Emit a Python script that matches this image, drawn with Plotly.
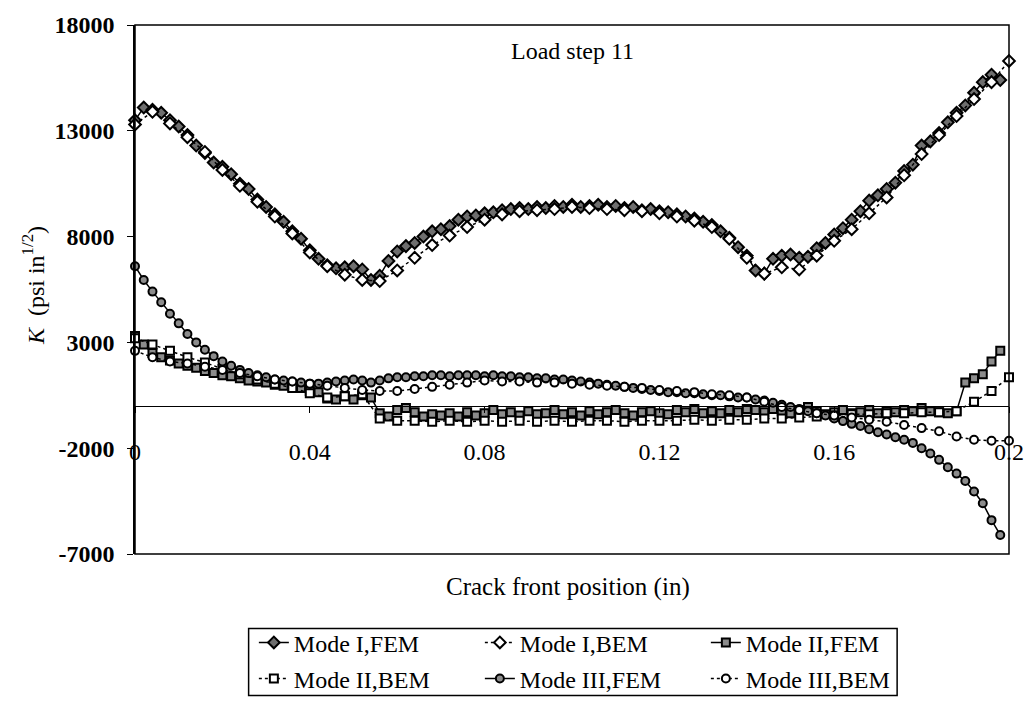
import plotly.graph_objects as go

# ---------------- data ----------------
x_fem = [0.000, 0.002, 0.004, 0.006, 0.008, 0.010, 0.012, 0.014, 0.016, 0.018,
         0.020, 0.022, 0.024, 0.026, 0.028, 0.030, 0.032, 0.034, 0.036, 0.038,
         0.040, 0.042, 0.044, 0.046, 0.048, 0.050, 0.052, 0.054, 0.056, 0.058,
         0.060, 0.062, 0.064, 0.066, 0.068, 0.070, 0.072, 0.074, 0.076, 0.078,
         0.080, 0.082, 0.084, 0.086, 0.088, 0.090, 0.092, 0.094, 0.096, 0.098,
         0.100, 0.102, 0.104, 0.106, 0.108, 0.110, 0.112, 0.114, 0.116, 0.118,
         0.120, 0.122, 0.124, 0.126, 0.128, 0.130, 0.132, 0.134, 0.136, 0.138,
         0.140, 0.142, 0.144, 0.146, 0.148, 0.150, 0.152, 0.154, 0.156, 0.158,
         0.160, 0.162, 0.164, 0.166, 0.168, 0.170, 0.172, 0.174, 0.176, 0.178,
         0.180, 0.182, 0.184, 0.186, 0.188, 0.190, 0.192, 0.194, 0.196, 0.198]

x_bem = [0.000, 0.004, 0.008, 0.012, 0.016, 0.020, 0.024, 0.028, 0.032, 0.036,
         0.040, 0.044, 0.048, 0.052, 0.056, 0.060, 0.064, 0.068, 0.072, 0.076,
         0.080, 0.084, 0.088, 0.092, 0.096, 0.100, 0.104, 0.108, 0.112, 0.116,
         0.120, 0.124, 0.128, 0.132, 0.136, 0.140, 0.144, 0.148, 0.152, 0.156,
         0.160, 0.164, 0.168, 0.172, 0.176, 0.180, 0.184, 0.188, 0.192, 0.196,
         0.200]

mode1_fem = [13500, 14100, 14000, 13850, 13500, 13200, 12800, 12300, 11950, 11500,
             11300, 10950, 10500, 10250, 9750, 9400, 9050, 8700, 8250, 7900,
             7350, 6950, 6650, 6500, 6550, 6600, 6450, 5950, 6150, 6850,
             7300, 7550, 7700, 8000, 8250, 8350, 8500, 8800, 8950, 9000,
             9100, 9150, 9250, 9300, 9350, 9300, 9400, 9350, 9450, 9400,
             9500, 9400, 9450, 9500, 9400, 9450, 9350, 9400, 9250, 9300,
             9200, 9150, 9050, 8950, 8850, 8700, 8550, 8250, 7950, 7500,
             7100, 6400, 6250, 6950, 7100, 7150, 7000, 7050, 7450, 7700,
             8100, 8400, 8800, 9200, 9700, 9950, 10250, 10550, 11100, 11400,
             12300, 12500, 12900, 13400, 13850, 14200, 14800, 15300, 15650, 15400]

mode1_bem = [13300, 13900, 13350, 12700, 12000, 11150, 10400, 9650, 8950, 8150,
             7250, 6600, 6200, 5950, 5900, 6400, 7000, 7600, 8050, 8450,
             8800, 9050, 9200, 9250, 9300, 9400, 9350, 9300, 9250, 9200,
             9100, 8950, 8750, 8450, 7900, 7000, 6250, 6550, 6450, 7100,
             7800, 8350, 9100, 9850, 10900, 11900, 12800, 13700, 14500, 15300,
             16300]

mode2_fem = [3300, 2900, 2500, 2300, 2150, 2000, 1900, 1800, 1650, 1550,
             1450, 1400, 1300, 1200, 1150, 1100, 1000, 950, 900, 850,
             700, 650, 350, 300, 450, 300, 500, 400, -350, -500,
             -200, -100, -300, -500, -400, -450, -350, -500, -300, -450,
             -350, -200, -400, -300, -450, -250, -400, -350, -200, -400,
             -300, -450, -250, -400, -300, -200, -350, -450, -300, -250,
             -350, -400, -200, -300, -150, -350, -250, -350, -200, -300,
             -150, -200, -300, -150, -250, -350, -200, -50, -250, -400,
             -300, -200, -350, -300, -200, -350, -250, -300, -200, -250,
             -100, -250, -300, -350, -250, 1100, 1300, 1500, 2100, 2600]

mode2_bem = [3200, 2900, 2600, 2300, 2050, 1750, 1500, 1250, 1050, 850,
             600, 400, 450, 550, -600, -700, -700, -750, -700, -750,
             -700, -750, -700, -750, -700, -750, -700, -700, -750, -700,
             -700, -700, -650, -700, -650, -650, -600, -600, -550, -500,
             -450, -400, -400, -350, -350, -300, -300, -250, 200, 700,
             1350]

mode3_fem = [6600, 5950, 5400, 4900, 4350, 3900, 3400, 3000, 2650, 2350,
             2100, 1900, 1700, 1550, 1450, 1350, 1250, 1200, 1150, 1100,
             1050, 1050, 1100, 1150, 1200, 1250, 1200, 1100, 1200, 1300,
             1350, 1350, 1400, 1400, 1450, 1450, 1400, 1450, 1450, 1450,
             1400, 1450, 1400, 1400, 1350, 1350, 1300, 1300, 1250, 1250,
             1200, 1150, 1100, 1050, 1000, 950, 900, 850, 800, 750,
             700, 650, 650, 600, 600, 550, 500, 500, 450, 400,
             400, 300, 250, 150, 50, -50, -150, -250, -350, -450,
             -600, -720, -850, -950, -1100, -1250, -1350, -1480, -1600, -1750,
             -2000, -2250, -2550, -2900, -3200, -3550, -4050, -4600, -5400, -6100]

mode3_bem = [2600, 2300, 2100, 2000, 1850, 1700, 1550, 1400, 1250, 1150,
             1050, 950, 850, 750, 700, 700, 800, 900, 1000, 1100,
             1200, 1150, 1150, 1100, 1100, 1050, 1000, 950, 900, 850,
             750, 700, 650, 550, 500, 400, 200, -50, -200, -350,
             -450, -550, -650, -750, -900, -1050, -1200, -1450, -1600, -1650,
             -1650]

x_ticks = [0, 0.04, 0.08, 0.12, 0.16, 0.2]
x_tick_text = ["0", "0.04", "0.08", "0.12", "0.16", "0.2"]
y_ticks = [-7000, -2000, 3000, 8000, 13000, 18000]
y_tick_text = ["-7000", "-2000", "3000", "8000", "13000", "18000"]

# ---------------- figure ----------------
FONT = "Liberation Serif"
fig = go.Figure()

def add(name, xs, ys, symbol, fill, dash, legend, size):
    fig.add_trace(go.Scatter(
        x=xs, y=ys, name=name, mode="lines+markers", legend=legend,
        line=dict(color="black", width=1.5, dash=dash),
        marker=dict(symbol=symbol, size=size, color=fill,
                    line=dict(color="black", width=2)),
        cliponaxis=False,
    ))

add("Mode I,FEM", x_fem, mode1_fem, "diamond", "#6e6e6e", "solid", "legend", 9)
add("Mode I,BEM", x_bem, mode1_bem, "diamond", "white", "dot", "legend", 9)
add("Mode II,FEM", x_fem, mode2_fem, "square", "#8c8c8c", "solid", "legend", 8)
add("Mode II,BEM", x_bem, mode2_bem, "square", "white", "dot", "legend2", 8)
add("Mode III,FEM", x_fem, mode3_fem, "circle", "#8c8c8c", "solid", "legend2", 8)
add("Mode III,BEM", x_bem, mode3_bem, "circle", "white", "dot", "legend2", 8)

fig.update_layout(
    width=1036, height=713,
    margin=dict(l=135, r=16, t=19, b=148),
    paper_bgcolor="white", plot_bgcolor="white",
    font=dict(family=FONT, size=24, color="black"),
    xaxis=dict(range=[0, 0.2], anchor="free", position=0.28,
               tickvals=x_ticks, ticktext=x_tick_text,
               showline=True, linecolor="black", linewidth=1,
               ticks="outside", ticklen=6, tickcolor="black",
               ticklabelstandoff=18,
               tickfont=dict(family=FONT, size=24),
               showgrid=False, zeroline=False),
    yaxis=dict(range=[-7000, 18000], tickvals=y_ticks, ticktext=y_tick_text,
               showline=True, linecolor="black", linewidth=1.5,
               ticks="outside", ticklen=6, tickcolor="black",
               ticklabelstandoff=8,
               tickfont=dict(family=FONT, size=24, weight="bold"),
               showgrid=False, zeroline=False),
    legend=dict(orientation="h", x=0.136, xanchor="left", y=-0.168, yanchor="middle",
                entrywidth=181, bgcolor="rgba(0,0,0,0)", borderwidth=0,
                font=dict(family=FONT, size=24), itemclick=False),
    legend2=dict(orientation="h", x=0.136, xanchor="left", y=-0.236, yanchor="middle",
                 entrywidth=181, bgcolor="rgba(0,0,0,0)", borderwidth=0,
                 font=dict(family=FONT, size=24), itemclick=False),
    showlegend=True,
)

# plot frame
fig.add_shape(type="rect", xref="paper", yref="paper", x0=0, y0=0, x1=1, y1=1,
              line=dict(color="black", width=1.5), layer="above")
# legend box
fig.add_shape(type="rect", xref="paper", yref="paper", x0=0.13, y0=-0.141, x1=0.872, y1=-0.2674,
              line=dict(color="black", width=1.5))

fig.add_annotation(text="Load step 11", xref="paper", yref="paper", x=0.5, y=0.95,
                   xanchor="center", yanchor="middle",
                   showarrow=False, font=dict(family=FONT, size=24))
fig.add_annotation(text="Crack front position (in)", xref="paper", yref="paper",
                   x=0.495, y=-0.062, xanchor="center", yanchor="middle",
                   showarrow=False, font=dict(family=FONT, size=25))
fig.add_annotation(text="<i>K</i>  (psi in<sup>1/2</sup>)", xref="paper", yref="paper",
                   x=-0.1164, y=0.507, xanchor="center", yanchor="middle",
                   textangle=-90, showarrow=False,
                   font=dict(family=FONT, size=24))

fig.write_html("out.html")
